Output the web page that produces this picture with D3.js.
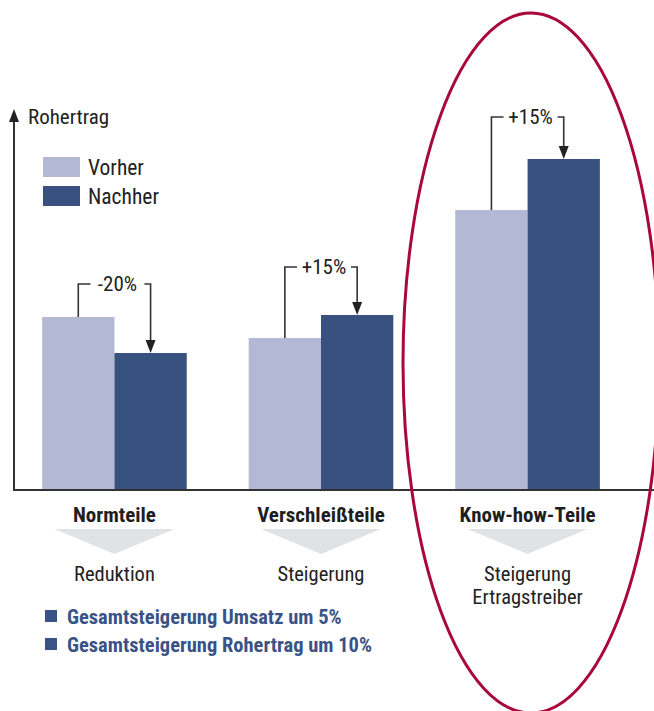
<!DOCTYPE html>
<html><head><meta charset="utf-8">
<script src="https://cdn.jsdelivr.net/npm/d3@7"></script>
<style>
html,body{margin:0;padding:0;background:#fff;}
svg text{font-family:"Liberation Sans Narrow","Roboto Condensed","Liberation Sans",sans-serif;}
</style></head>
<body>
<svg id="c" width="654" height="711"></svg>
<script>
const categories = ["Normteile", "Verschleißteile", "Know-how-Teile"];
const subLabels = [["Reduktion"], ["Steigerung"], ["Steigerung", "Ertragstreiber"]];
const seriesNames = ["Vorher", "Nachher"];
const vorher = [173, 152, 280];
const nachher = [137, 175, 331];
const changeLabels = ["-20%", "+15%", "+15%"];
const bracketLevel = [206, 223, 373];
const notes = ["Gesamtsteigerung Umsatz um 5%", "Gesamtsteigerung Rohertrag um 10%"];
const axisTitle = "Rohertrag";
const colors = ["#b3b8d4", "#38517f"];

const svg = d3.select("#c");
const base = 490, x0 = 14;
const y = d3.scaleLinear().domain([0, 378]).range([base, 112]);
const x = d3.scaleBand().domain(categories).range([38, 604]).paddingInner(0.3).paddingOuter(0.02);
const xs = d3.scaleBand().domain(seriesNames).range([0, x.bandwidth()]);

// bars
categories.forEach((c, i) => {
  [vorher[i], nachher[i]].forEach((v, j) => {
    svg.append("rect")
      .attr("x", x(c) + xs(seriesNames[j]))
      .attr("y", y(v))
      .attr("width", xs.bandwidth())
      .attr("height", base - y(v))
      .attr("fill", colors[j]);
  });
});

// axes
svg.append("line").attr("x1", x0).attr("x2", 654).attr("y1", base).attr("y2", base)
  .attr("stroke", "#333").attr("stroke-width", 2);
svg.append("line").attr("x1", x0).attr("x2", x0).attr("y1", base + 1).attr("y2", 118)
  .attr("stroke", "#333").attr("stroke-width", 2);
svg.append("path").attr("d", `M${x0 - 5},${122} L${x0},${109} L${x0 + 5},${122} Z`).attr("fill", "#222");
svg.append("text").attr("x", 28).attr("y", 124).attr("font-size", 21).attr("fill", "#222").text(axisTitle);

// legend
seriesNames.forEach((s, j) => {
  svg.append("rect").attr("x", 43).attr("y", 157 + j * 29).attr("width", 37).attr("height", 20).attr("fill", colors[j]);
  svg.append("text").attr("x", 88).attr("y", 175 + j * 29).attr("font-size", 21.5).attr("fill", "#222").text(s);
});

// brackets
categories.forEach((c, i) => {
  const xl = x(c) + xs("Vorher") + xs.bandwidth() / 2;
  const xr = x(c) + xs("Nachher") + xs.bandwidth() / 2;
  const yb = y(bracketLevel[i]);
  const xm = (xl + xr) / 2 + 3;
  const g = svg.append("g");
  g.append("text").attr("x", xm).attr("y", yb + 7).attr("text-anchor", "middle")
    .attr("font-size", 21).attr("fill", "#222").text(changeLabels[i]);
  const hw = 27;
  g.append("path").attr("d", `M${xl},${y(vorher[i])} V${yb} H${xm - hw}`)
    .attr("fill", "none").attr("stroke", "#333").attr("stroke-width", 1.6);
  const tip = y(nachher[i]);
  g.append("path").attr("d", `M${xm + hw},${yb} H${xr} V${tip - 10}`)
    .attr("fill", "none").attr("stroke", "#333").attr("stroke-width", 1.6);
  g.append("path").attr("d", `M${xr - 5},${tip - 13} L${xr},${tip} L${xr + 5},${tip - 13} Z`).attr("fill", "#222");
});

// category labels + triangles + sub labels
categories.forEach((c, i) => {
  const cx = x(c) + x.bandwidth() / 2;
  svg.append("text").attr("x", cx).attr("y", 522).attr("text-anchor", "middle")
    .attr("font-size", 21).attr("font-weight", "bold").attr("fill", "#1e1e1e").text(c);
  svg.append("path").attr("d", `M${cx - 60},529 L${cx + 60},529 L${cx},554 Z`).attr("fill", "#e1e2e4");
  subLabels[i].forEach((s, k) => {
    svg.append("text").attr("x", cx).attr("y", 581 + k * 23).attr("text-anchor", "middle")
      .attr("font-size", 20.5).attr("fill", "#222").text(s);
  });
});

// notes
notes.forEach((n, k) => {
  svg.append("rect").attr("x", 45).attr("y", 610 + k * 28).attr("width", 12).attr("height", 12).attr("fill", "#3a5386");
  svg.append("text").attr("x", 67).attr("y", 624 + k * 28).attr("font-size", 20.5).attr("font-weight", "bold")
    .attr("fill", "#3a5386").text(n);
});

// highlight ellipse
svg.append("ellipse").attr("cx", 531).attr("cy", 363).attr("rx", 128).attr("ry", 350)
  .attr("fill", "none").attr("stroke", "#a8083a").attr("stroke-width", 3);
</script>
</body></html>
